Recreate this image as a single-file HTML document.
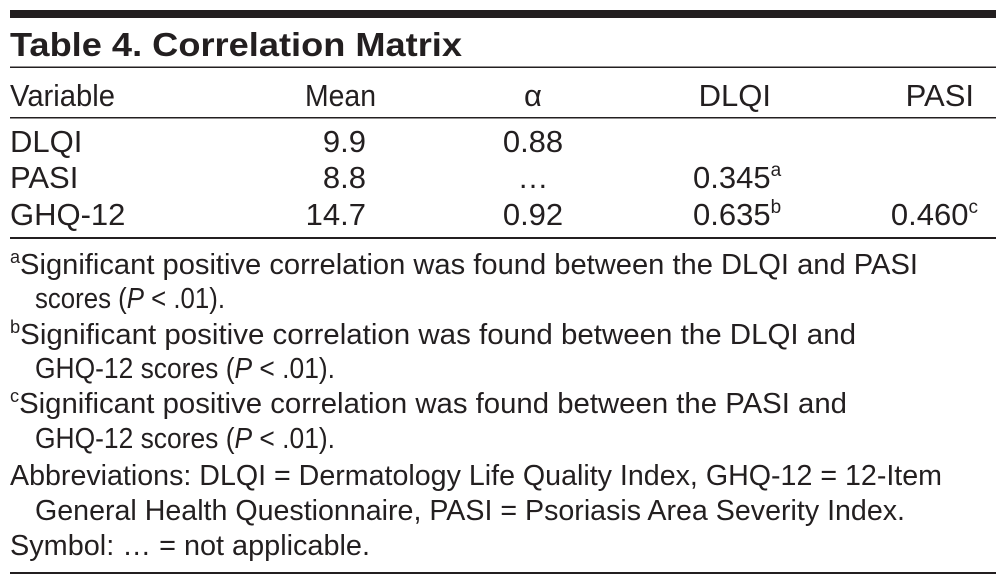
<!DOCTYPE html>
<html><head><meta charset="utf-8"><style>
html,body{margin:0;padding:0;background:#fff;}
svg{display:block;}
text{font-family:"Liberation Sans",sans-serif;fill:#231f20;}
</style></head><body>
<svg width="1006" height="584" viewBox="0 0 1006 584" xmlns="http://www.w3.org/2000/svg">
<rect x="10" y="10" width="986" height="8" fill="#231f20"/>
<text x="10" y="56" font-size="33" font-weight="bold" textLength="452" lengthAdjust="spacingAndGlyphs">Table 4. Correlation Matrix</text>
<rect x="10" y="66.5" width="986" height="1.5" fill="#231f20"/>
<g font-size="31">
<text x="10" y="106" textLength="105" lengthAdjust="spacingAndGlyphs">Variable</text>
<text x="305" y="106" textLength="71" lengthAdjust="spacingAndGlyphs">Mean</text>
<text x="533" y="106" text-anchor="middle">α</text>
<text x="771" y="106" text-anchor="end">DLQI</text>
<text x="974" y="106" text-anchor="end">PASI</text>
</g>
<rect x="10" y="117" width="986" height="1.5" fill="#231f20"/>
<g font-size="31">
<text x="10" y="152">DLQI</text>
<text x="366" y="152" text-anchor="end">9.9</text>
<text x="533" y="152" text-anchor="middle">0.88</text>
<text x="10" y="188">PASI</text>
<text x="366" y="188" text-anchor="end">8.8</text>
<text x="533" y="188" text-anchor="middle">…</text>
<text x="693" y="188">0.345<tspan font-size="19" dy="-12">a</tspan></text>
<text x="10" y="225">GHQ-12</text>
<text x="366" y="225" text-anchor="end">14.7</text>
<text x="533" y="225" text-anchor="middle">0.92</text>
<text x="693" y="225">0.635<tspan font-size="19" dy="-12">b</tspan></text>
<text x="978" y="225" text-anchor="end">0.460<tspan font-size="19" dy="-12">c</tspan></text>
</g>
<rect x="10" y="237" width="986" height="2" fill="#231f20"/>
<g font-size="29">
<text x="10" y="274" textLength="908" lengthAdjust="spacingAndGlyphs"><tspan font-size="18" dy="-11">a</tspan><tspan dy="11">Significant positive correlation was found between the DLQI and PASI</tspan></text>
<text x="35" y="308" textLength="190" lengthAdjust="spacingAndGlyphs">scores (<tspan font-style="italic">P</tspan> &lt; .01).</text>
<text x="10" y="344" textLength="846" lengthAdjust="spacingAndGlyphs"><tspan font-size="18" dy="-11">b</tspan><tspan dy="11">Significant positive correlation was found between the DLQI and</tspan></text>
<text x="35" y="378" textLength="300" lengthAdjust="spacingAndGlyphs">GHQ-12 scores (<tspan font-style="italic">P</tspan> &lt; .01).</text>
<text x="10" y="413" textLength="837" lengthAdjust="spacingAndGlyphs"><tspan font-size="18" dy="-11">c</tspan><tspan dy="11">Significant positive correlation was found between the PASI and</tspan></text>
<text x="35" y="448" textLength="300" lengthAdjust="spacingAndGlyphs">GHQ-12 scores (<tspan font-style="italic">P</tspan> &lt; .01).</text>
<text x="10" y="485" textLength="932" lengthAdjust="spacingAndGlyphs">Abbreviations: DLQI = Dermatology Life Quality Index, GHQ-12 = 12-Item</text>
<text x="35" y="520" textLength="870" lengthAdjust="spacingAndGlyphs">General Health Questionnaire, PASI = Psoriasis Area Severity Index.</text>
<text x="10" y="555" textLength="360" lengthAdjust="spacingAndGlyphs">Symbol: … = not applicable.</text>
</g>
<rect x="10" y="572" width="986" height="2" fill="#231f20"/>
</svg>
</body></html>
